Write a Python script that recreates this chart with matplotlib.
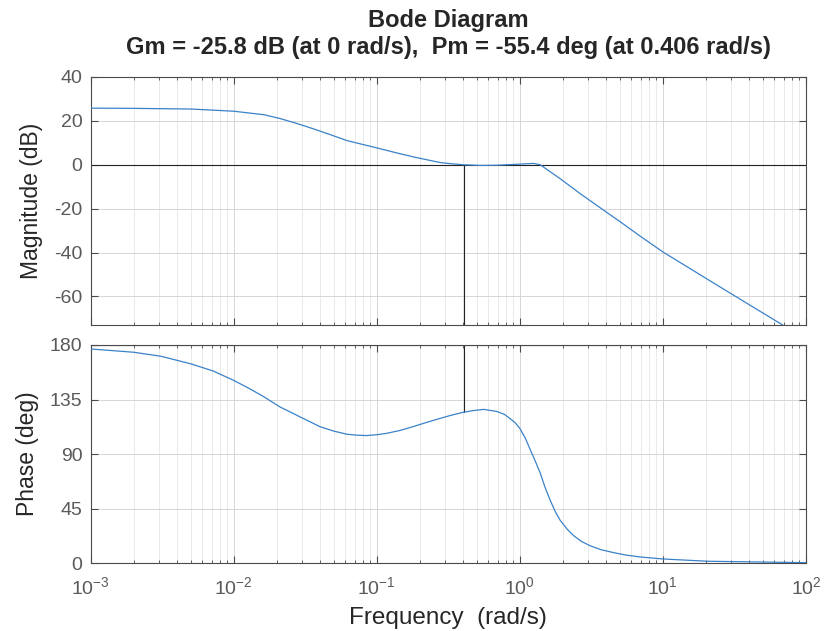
import numpy as np
import matplotlib
matplotlib.use("Agg")
import matplotlib.pyplot as plt
from matplotlib.ticker import LogLocator, NullFormatter, MultipleLocator

plt.rcParams['font.family'] = ['Liberation Sans', 'DejaVu Sans']
plt.rcParams['mathtext.fontset'] = 'custom'
plt.rcParams['mathtext.rm'] = 'Liberation Sans'
plt.rcParams['mathtext.it'] = 'Liberation Sans'
plt.rcParams['mathtext.bf'] = 'Liberation Sans:bold'
plt.rcParams['axes.unicode_minus'] = False

# magnitude response (rad/s, dB)
mag_freq = [0.001, 0.002, 0.005, 0.01, 0.0163, 0.021, 0.0277, 0.036, 0.047, 0.062,
            0.1, 0.138, 0.18, 0.278, 0.34, 0.406, 0.53, 0.7, 1.0, 1.25, 1.39, 1.6,
            1.92, 2.65, 3.65, 5.04, 6.97, 10, 25, 66, 100]
mag_db = [25.8, 25.7, 25.4, 24.4, 22.8, 21.1, 18.8, 16.4, 13.8, 11.0,
          7.7, 5.4, 3.6, 1.0, 0.4, 0.0, -0.3, -0.2, 0.3, 0.6, 0.0, -2.8,
          -6.4, -13.2, -19.6, -26.0, -32.6, -39.7, -55.6, -72.3, -79.5]

# phase response (rad/s, deg)
ph_freq = [0.001, 0.002, 0.0031, 0.005, 0.0072, 0.01, 0.013, 0.0163, 0.021, 0.029,
           0.040, 0.05, 0.062, 0.073, 0.085, 0.1, 0.118, 0.145, 0.18, 0.225,
           0.278, 0.33, 0.406, 0.48, 0.56, 0.69, 0.78, 0.86, 0.93, 1.0,
           1.09, 1.18, 1.28, 1.39, 1.5, 1.63, 1.77, 1.92, 2.15, 2.38,
           2.7, 3.11, 3.7, 4.53, 5.5, 6.97, 9.9, 20.4, 100]
ph_deg = [176.7, 174.0, 170.7, 164.5, 158.5, 150.8, 143.8, 137.2, 129.0, 120.8,
          112.7, 109.0, 106.4, 105.6, 105.3, 106.0, 107.2, 109.5, 112.7, 116.3,
          119.5, 122.0, 124.6, 126.0, 126.9, 125.2, 122.8, 119.1, 115.8, 111.3,
          103.5, 94.0, 84.5, 74.4, 62.8, 52.1, 42.6, 35.3, 28.0, 22.8,
          18.0, 14.4, 11.2, 8.8, 6.8, 5.2, 3.6, 1.7, 0.5]

# stability margins
gm_db = -25.8
pm_deg = -55.4
wc = 0.406

line_c = '#3a82c8'
margin_c = '#222222'
axis_c = '#4a4a4a'
tick_c = '#5a5a5a'
label_c = '#262626'

fig = plt.figure(figsize=(8.24, 6.31), dpi=100)
ax1 = fig.add_axes([0.110, 0.485, 0.868, 0.393])
ax2 = fig.add_axes([0.110, 0.1073, 0.868, 0.346])

ax1.semilogx(mag_freq, mag_db, color=line_c, lw=0.9, zorder=3)
ax1.axhline(0, color=margin_c, lw=0.8, zorder=2)
ax1.plot([wc, wc], [0, -73], color=margin_c, lw=0.8, zorder=2)
ax1.set_ylim(-73, 40)
ax1.yaxis.set_major_locator(MultipleLocator(20))
ax1.set_ylabel('Magnitude (dB)', fontsize=16.5, color=label_c, labelpad=8)

ax2.semilogx(ph_freq, ph_deg, color=line_c, lw=0.9, zorder=3)
ax2.axhline(180, color=margin_c, lw=0.8, zorder=2)
ax2.plot([wc, wc], [180, 180 + pm_deg], color=margin_c, lw=0.8, zorder=2)
ax2.set_ylim(0, 180)
ax2.yaxis.set_major_locator(MultipleLocator(45))
ax2.set_ylabel('Phase (deg)', fontsize=16.5, color=label_c, labelpad=8)
ax2.set_xlabel('Frequency  (rad/s)', fontsize=17.5, color=label_c, labelpad=7)

for ax in (ax1, ax2):
    ax.set_xlim(1e-3, 1e2)
    ax.xaxis.set_major_locator(LogLocator(base=10, numticks=10))
    ax.xaxis.set_minor_locator(LogLocator(base=10, subs=np.arange(2, 10), numticks=100))
    ax.xaxis.set_minor_formatter(NullFormatter())
    ax.grid(True, which='major', color='#d6d6d6', lw=0.7, zorder=0)
    ax.grid(True, which='minor', axis='x', color='#e6e6e6', lw=0.6, zorder=0)
    ax.tick_params(which='both', direction='in', top=True, right=True,
                   colors=axis_c, labelcolor=tick_c, labelsize=14)
    ax.tick_params(which='major', length=5, pad=6)
    ax.tick_params(which='minor', length=2.5)
    for s in ax.spines.values():
        s.set_color(axis_c)
        s.set_linewidth(0.8)

ax1.tick_params(labelbottom=False)
ax2.tick_params(axis='x', which='major', pad=9)

fig.text(0.544, 0.968, 'Bode Diagram', ha='center', va='center',
         fontsize=17, fontweight='bold', color=label_c)
fig.text(0.544, 0.925,
         'Gm = %.1f dB (at 0 rad/s),  Pm = %.1f deg (at %.3f rad/s)' % (gm_db, pm_deg, wc),
         ha='center', va='center', fontsize=17, fontweight='bold', color=label_c)

fig.savefig('out.png', dpi=100, facecolor='white')
